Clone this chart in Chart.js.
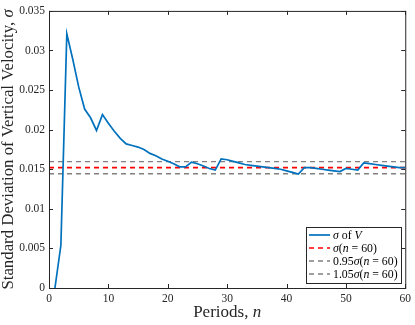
<!DOCTYPE html>
<html><head><meta charset="utf-8">
<script src="https://cdn.jsdelivr.net/npm/chart.js@4/dist/chart.umd.min.js"></script>
<style>html,body{margin:0;padding:0;background:#fff;}#wrap{width:415px;height:325px;position:relative;}</style>
</head><body><div id="wrap"><canvas id="c" width="415" height="325"></canvas></div>
<script>
const periods = Array.from({length:60},(_,i)=>i+1);
const sigmaV = [0,0.0054,0.0321,0.0289,0.0254,0.0226,0.0215,0.0199,0.0219,0.0208,
0.0198,0.0189,0.0182,0.0180,0.0178,0.0175,0.0170,0.0167,0.0163,0.0160,
0.0157,0.0153,0.0153,0.0159,0.0157,0.0154,0.0151,0.0149,0.0163,0.0162,
0.0160,0.0158,0.0156,0.0155,0.0154,0.0153,0.0152,0.0151,0.0150,0.0148,
0.0146,0.0144,0.0152,0.0152,0.0151,0.0150,0.0149,0.0148,0.0147,0.0151,
0.0150,0.0149,0.0158,0.0157,0.0156,0.0155,0.0154,0.0153,0.0152,0.0152];
const sigma60 = 0.0152;
const factors = [0.95, 1.05];
const xTicks = [0,10,20,30,40,50,60];
const yTicks = [0,0.005,0.01,0.015,0.02,0.025,0.03,0.035];
const legendLabels = [
  [["σ",1],[" of ",0],["V",1]],
  [["σ",1],["(",0],["n",1],[" = 60)",0]],
  [["0.95",0],["σ",1],["(",0],["n",1],[" = 60)",0]],
  [["1.05",0],["σ",1],["(",0],["n",1],[" = 60)",0]]
];
const FONT = '"Liberation Serif", "DejaVu Serif", serif';

function drawRich(ctx, parts, x, y, size, align){
  let w=0;
  parts.forEach(p=>{ctx.font=(p[1]?'italic ':'')+size+'px '+FONT; w+=ctx.measureText(p[0]).width;});
  let cx = align==='center'? x-w/2 : x;
  parts.forEach(p=>{ctx.font=(p[1]?'italic ':'')+size+'px '+FONT; ctx.fillText(p[0],cx,y); cx+=ctx.measureText(p[0]).width;});
}

const decor = {
  id:'decor',
  afterDatasetsDraw(chart){
    const ctx=chart.ctx, a=chart.chartArea, xs=chart.scales.x, ys=chart.scales.y;
    ctx.save();
    ctx.strokeStyle='#262626'; ctx.lineWidth=1;
    ctx.strokeRect(a.left+0.5,a.top+0.5,a.right-a.left,a.bottom-a.top);
    const L=4;
    ctx.beginPath();
    xTicks.forEach(t=>{const px=Math.round(xs.getPixelForValue(t))+0.5;
      ctx.moveTo(px,a.bottom);ctx.lineTo(px,a.bottom-L);ctx.moveTo(px,a.top);ctx.lineTo(px,a.top+L);});
    yTicks.forEach(t=>{const py=Math.round(ys.getPixelForValue(t))+0.5;
      ctx.moveTo(a.left,py);ctx.lineTo(a.left+L,py);ctx.moveTo(a.right,py);ctx.lineTo(a.right-L,py);});
    ctx.stroke();
    // legend
    const bx=306, by=227, bw=95, bh=56;
    ctx.fillStyle='#fff'; ctx.fillRect(bx,by,bw,bh);
    ctx.strokeStyle='#262626'; ctx.strokeRect(bx+0.5,by+0.5,bw,bh);
    chart.data.datasets.forEach((ds,i)=>{
      const y=by+8+i*13;
      ctx.strokeStyle=ds.borderColor; ctx.lineWidth=ds.borderWidth;
      ctx.setLineDash(ds.borderDash||[]);
      ctx.beginPath(); ctx.moveTo(bx+3,y); ctx.lineTo(bx+24,y); ctx.stroke();
      ctx.setLineDash([]);
      ctx.fillStyle='#000'; ctx.textBaseline='middle'; ctx.textAlign='left';
      drawRich(ctx, legendLabels[i], bx+27, y+0.5, 11.8, 'left');
    });
    // axis titles
    ctx.fillStyle='#262626'; ctx.textBaseline='middle'; ctx.textAlign='left';
    drawRich(ctx, [["Periods, ",0],["n",1]], (a.left+a.right)/2, 313, 17, 'center');
    ctx.save();
    ctx.translate(9,(a.top+a.bottom)/2); ctx.rotate(-Math.PI/2);
    drawRich(ctx, [["Standard Deviation of Vertical Velocity, ",0],["σ",1]], 0, 0, 16.8, 'center');
    ctx.restore();
    ctx.restore();
  }
};

const lineAt = v => [{x:0,y:v},{x:60,y:v}];
new Chart(document.getElementById('c'),{
  type:'line',
  data:{datasets:[
    {label:'σ of V', data:periods.map((n,i)=>({x:n,y:sigmaV[i]})), borderColor:'#0072BD', borderWidth:1.7, pointRadius:0, tension:0},
    {label:'σ(n = 60)', data:lineAt(sigma60), borderColor:'#FF0000', borderWidth:1.7, borderDash:[5,4], pointRadius:0},
    {label:'0.95σ(n = 60)', data:lineAt(sigma60*factors[0]), borderColor:'#808080', borderWidth:1.4, borderDash:[5,4], pointRadius:0},
    {label:'1.05σ(n = 60)', data:lineAt(sigma60*factors[1]), borderColor:'#808080', borderWidth:1.4, borderDash:[5,4], pointRadius:0}
  ]},
  options:{
    responsive:false, animation:false, devicePixelRatio:1,
    layout:{padding:{left:0,right:8,top:6,bottom:0}},
    plugins:{legend:{display:false},tooltip:{enabled:false}},
    scales:{
      x:{type:'linear',min:0,max:60,
        afterFit(s){s.height=37;},
        afterBuildTicks(s){s.ticks=xTicks.map(v=>({value:v}));},
        grid:{display:false,drawTicks:false}, border:{display:false},
        ticks:{padding:4,color:'#262626',font:{family:FONT,size:11.5},maxRotation:0}},
      y:{type:'linear',min:0,max:0.035,
        afterFit(s){s.width=49;},
        afterBuildTicks(s){s.ticks=yTicks.map(v=>({value:v}));},
        grid:{display:false,drawTicks:false}, border:{display:false},
        ticks:{padding:4,color:'#262626',font:{family:FONT,size:11.5},callback:v=>String(+v.toFixed(3))}}
    }
  },
  plugins:[decor]
});
</script></body></html>
